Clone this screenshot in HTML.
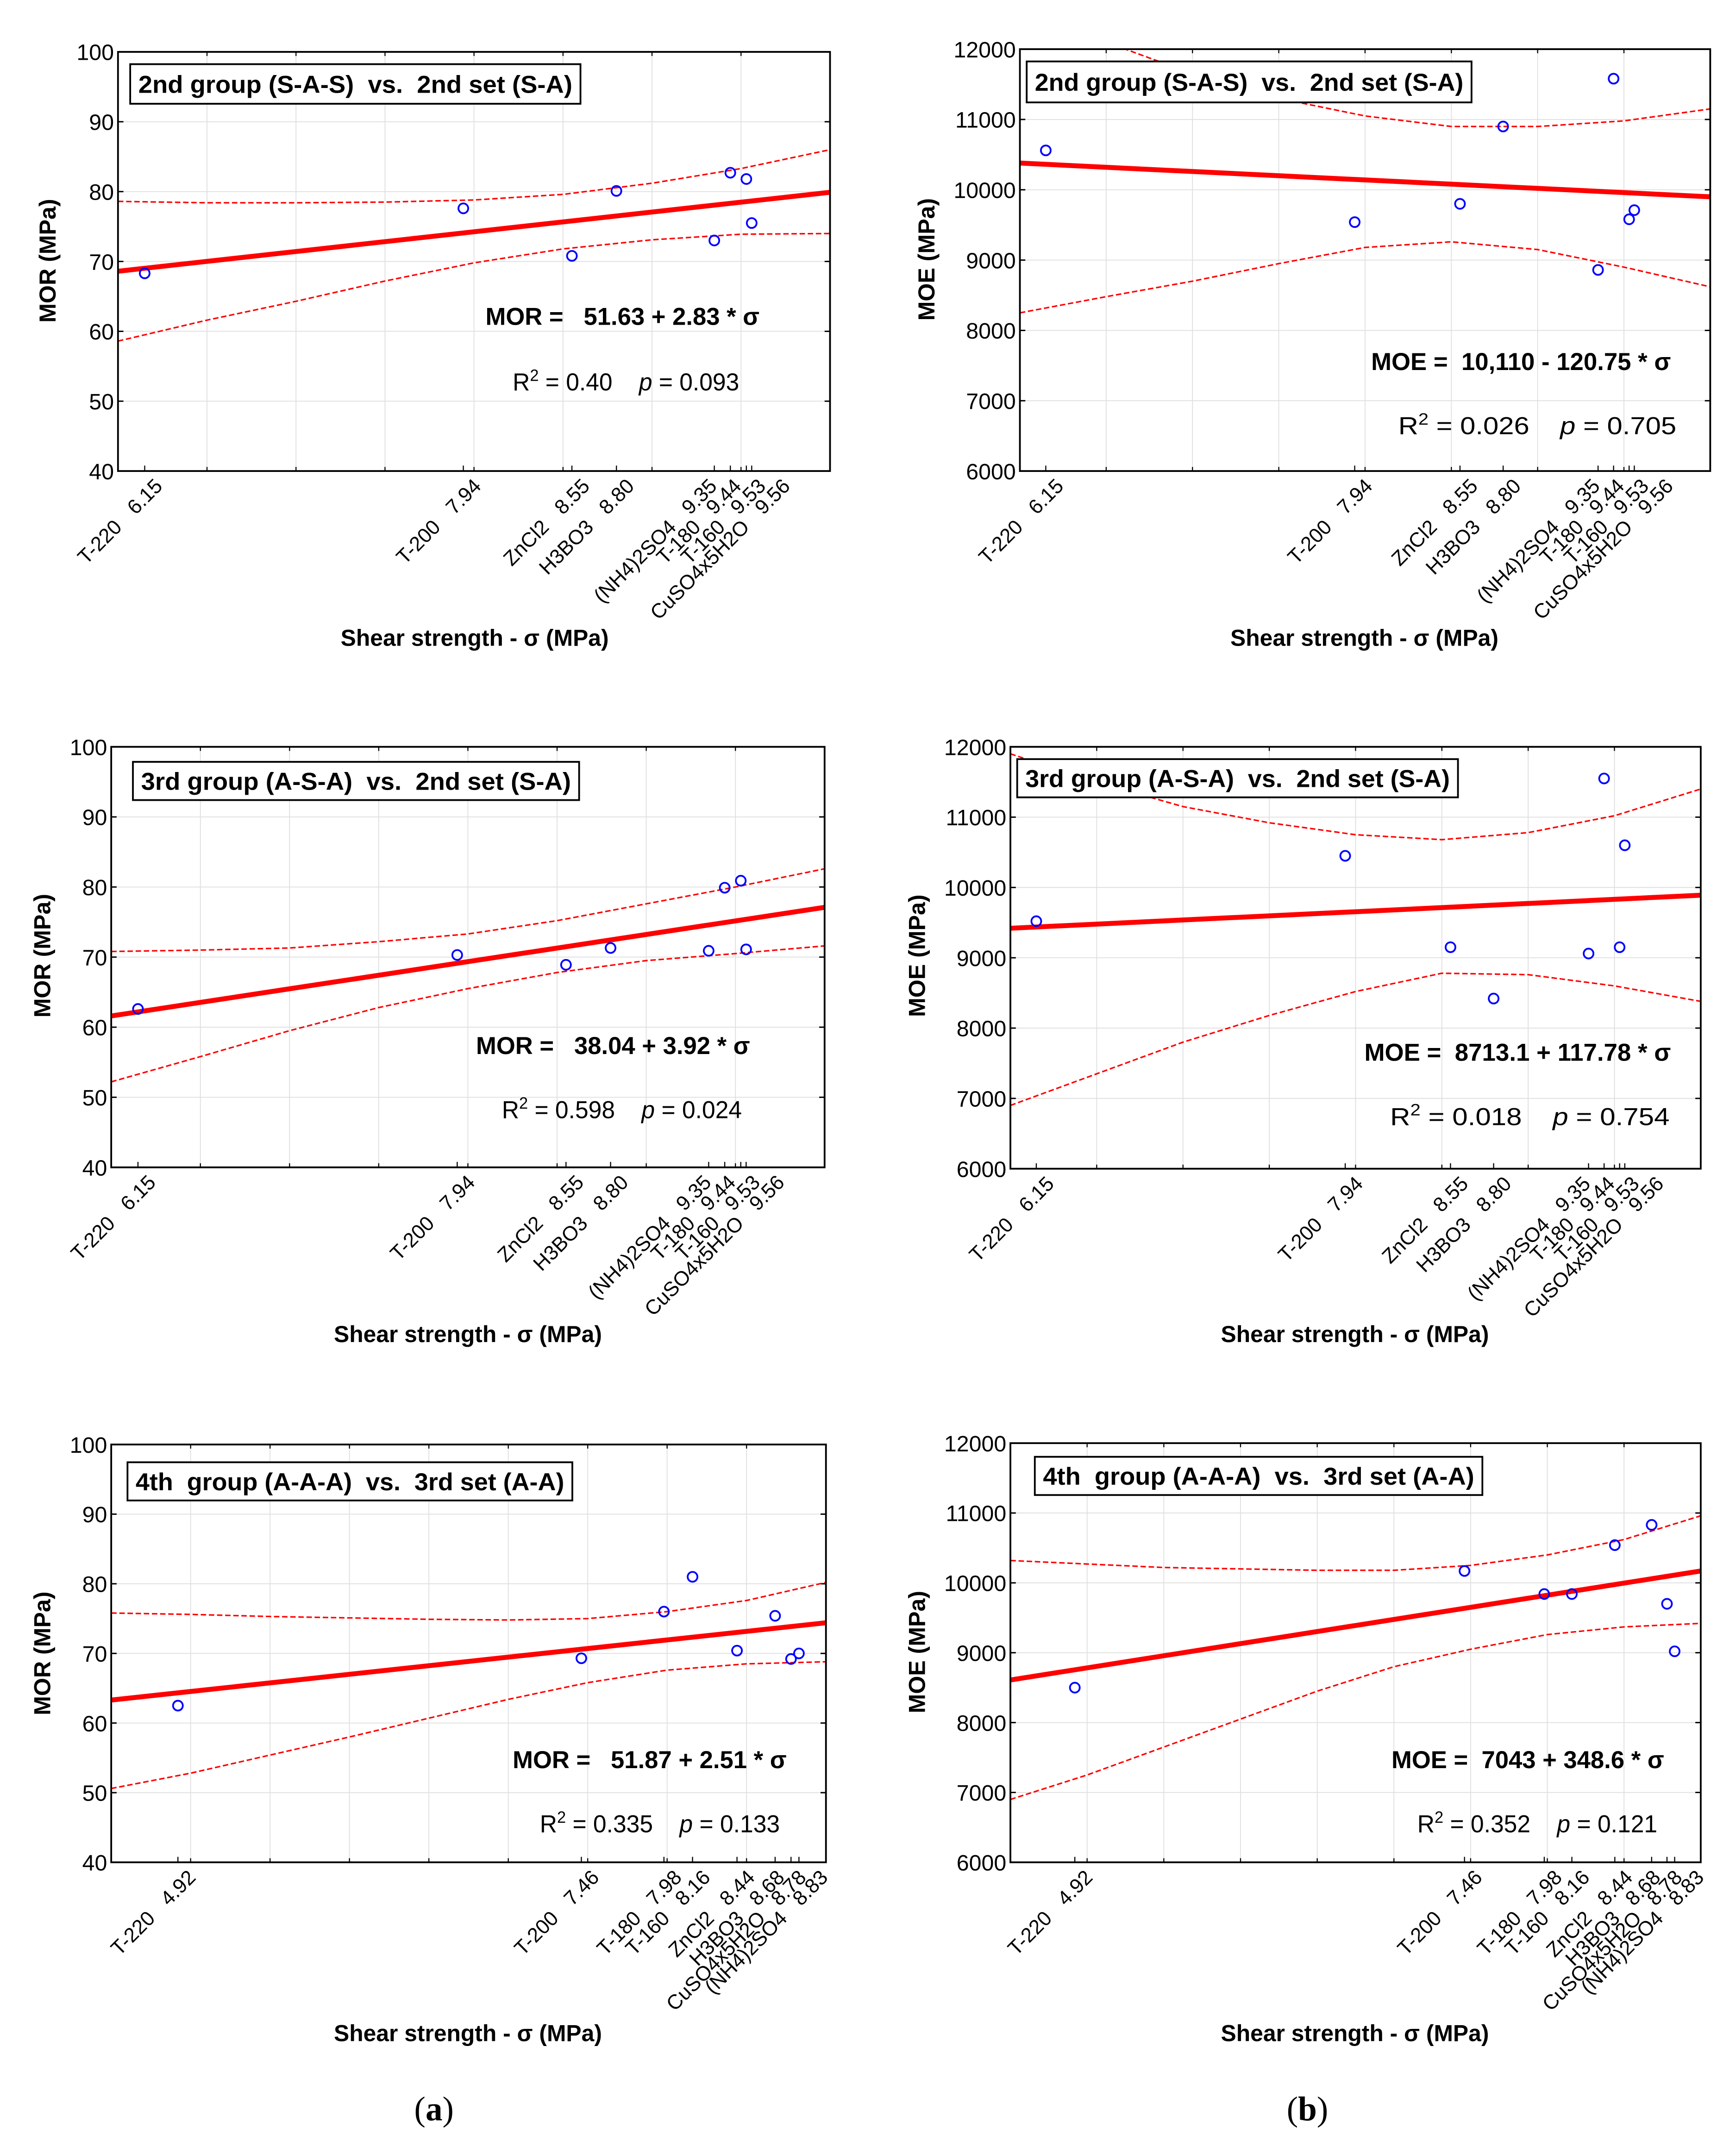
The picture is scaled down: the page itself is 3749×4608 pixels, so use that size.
<!DOCTYPE html>
<html><head><meta charset="utf-8">
<style>
html,body{margin:0;padding:0;background:#fff;}
svg{display:block;}
text{font-family:"Liberation Sans",sans-serif;white-space:pre;}
.nar{font-family:"Liberation Sans Narrow","Liberation Sans",sans-serif;}
</style></head>
<body>
<svg id="fig" width="3749" height="4608" viewBox="0 0 1280 1563" preserveAspectRatio="none" xmlns="http://www.w3.org/2000/svg">
<rect x="0" y="0" width="1280" height="1563" fill="#fff"/>
<text x="320" y="1553" font-size="25" text-anchor="middle" style="font-family:'Liberation Serif',serif">(<tspan font-weight="bold">a</tspan>)</text>
<text x="964" y="1553" font-size="25" text-anchor="middle" style="font-family:'Liberation Serif',serif">(<tspan font-weight="bold">b</tspan>)</text>
</svg>
<script>
// shared category labels
const namesA = ["T-220","T-200","ZnCl2","H3BO3","(NH4)2SO4","T-180","T-160","CuSO4x5H2O"];
const ticksA = ["6.15","7.94","8.55","8.80","9.35","9.44","9.53","9.56"];
const xA = [6.15,7.94,8.55,8.80,9.35,9.44,9.53,9.56];
const namesB = ["T-220","T-200","T-180","T-160","ZnCl2","H3BO3","CuSO4x5H2O","(NH4)2SO4"];
const ticksB = ["4.92","7.46","7.98","8.16","8.44","8.68","8.78","8.83"];
const xB = [4.92,7.46,7.98,8.16,8.44,8.68,8.78,8.83];
const bandXA = [6,6.5,7,7.5,8,8.5,9,9.5,10];
const bandXB = [4.5,5,5.5,6,6.5,7,7.5,8,8.5,9];

// panel 1: MOR, 2nd group
const p1Y = [68.3,77.6,70.8,80.1,73.0,82.7,81.8,75.5];
const p1Line = [68.6,79.9];
const p1Upper = [78.6,78.4,78.4,78.5,78.8,79.6,81.2,83.3,86.0];
const p1Lower = [58.6,61.6,64.3,67.2,69.8,71.8,73.1,73.9,74.0];
// panel 2: MOE, 2nd group
const p2Y = [10560,9540,9800,10900,8860,11580,9580,9710];
const p2Line = [10380,9900];
const p2Upper = [12700,12100,11650,11300,11050,10900,10900,10980,11150];
const p2Lower = [8250,8480,8700,8950,9180,9260,9150,8900,8620];
// panel 3: MOR, 3rd group
const p3Y = [62.6,70.3,68.9,71.3,70.9,79.9,80.9,71.1];
const p3Line = [61.6,77.1];
const p3Upper = [70.8,71.0,71.3,72.2,73.3,75.2,77.6,80.0,82.6];
const p3Lower = [52.2,55.8,59.5,62.8,65.5,67.8,69.5,70.5,71.6];
// panel 4: MOE, 3rd group
const p4Y = [9520,10450,9150,8420,9060,11550,9150,10600];
const p4Line = [9420,9890];
const p4Upper = [11900,11500,11150,10920,10750,10680,10780,11020,11400];
const p4Lower = [6900,7350,7800,8180,8520,8780,8760,8600,8380];
// panel 5: MOR, 4th group
const p5Y = [62.5,69.3,76.0,81.0,70.4,75.4,69.2,70.0];
const p5Line = [63.3,74.4];
const p5Upper = [75.8,75.6,75.3,75.1,74.9,74.8,75.0,76.0,77.6,80.2];
const p5Lower = [50.6,52.8,55.4,58.0,60.7,63.4,65.8,67.6,68.5,68.8];
// panel 6: MOE, 4th group
const p6Y = [8500,10170,9840,9840,10540,10830,9700,9020];
const p6Line = [8610,10170];
const p6Upper = [10320,10270,10220,10200,10180,10180,10250,10400,10620,10960];
const p6Lower = [6900,7250,7650,8050,8450,8800,9050,9260,9370,9420];

const yTicksMOR = ["40","50","60","70","80","90","100"];
const yTicksMOE = ["6000","7000","8000","9000","10000","11000","12000"];

const NS = "http://www.w3.org/2000/svg";
const svg = document.getElementById("fig");
function mk(tag, attrs, parent){
  const e = document.createElementNS(NS, tag);
  for (const k in attrs) e.setAttribute(k, attrs[k]);
  (parent||svg).appendChild(e);
  return e;
}

function spread(pos, gap){
  const a = pos.slice();
  for (let it = 0; it < 200; it++) {
    let moved = false;
    for (let i = 0; i < a.length - 1; i++) {
      const d = a[i + 1] - a[i];
      if (d < gap - 0.01) { const s = (gap - d) / 2; a[i] -= s; a[i + 1] += s; moved = true; }
    }
    if (!moved) break;
  }
  return a;
}

function panel(id, L, R, T, B, xmin, xmax, ymin, ymax, ystep, yTicks, xs, ys, names, ticks, line, bandX, up, lo,
               yTitle, legend, legBox, eq, eqPos, r2, pv, r2Pos, xTitlePos, yTitlePos, gap){
  const g = mk("g", {});
  
  
  const sx = v => L + (v - xmin) / (xmax - xmin) * (R - L);
  const sy = v => B - (v - ymin) / (ymax - ymin) * (B - T);
  const clipId = id + "-clip";
  const cp = mk("clipPath", {id: clipId}, g);
  mk("rect", {x: L, y: T, width: R - L, height: B - T}, cp);
  for (let v = xmin + 0.5; v < xmax - 0.01; v += 0.5) {
    const gl = mk("line", {x1: sx(v), x2: sx(v), y1: T, y2: B, stroke: "#dedede", "stroke-width": 0.6}, g);
    
    
    mk("line", {x1: sx(v), x2: sx(v), y1: B, y2: B - 3, stroke: "#000", "stroke-width": 0.8}, g);
    mk("line", {x1: sx(v), x2: sx(v), y1: T, y2: T + 3, stroke: "#000", "stroke-width": 0.8}, g);
  }
  yTicks.forEach((lab, i) => {
    const v = ymin + i * ystep;
    const y = sy(v);
    if (i > 0 && i < yTicks.length - 1) {
      const gl = mk("line", {x1: L, x2: R, y1: y, y2: y, stroke: "#dedede", "stroke-width": 0.6}, g);
      
      
    }
    mk("line", {x1: L, x2: L + 4, y1: y, y2: y, stroke: "#000", "stroke-width": 1}, g);
    mk("line", {x1: R, x2: R - 4, y1: y, y2: y, stroke: "#000", "stroke-width": 1}, g);
    const t = mk("text", {x: L - 3, y: y + 6, "font-size": 16.5, "text-anchor": "end"}, g);
    t.textContent = lab;
    
    
  });
  const anchors = spread(xs.map(v => sx(v)), gap);
  xs.forEach((v, i) => {
    const x = sx(v);
    mk("line", {x1: x, x2: x, y1: B, y2: B - 4, stroke: "#000", "stroke-width": 0.8}, g);
    const ax = anchors[i] + 6, ay = B + 4;
    const t1 = mk("text", {x: ax, y: ay, "font-size": 15, "text-anchor": "end",
      transform: "rotate(-45 " + ax + " " + ay + ")", dy: "0.75em"}, g);
    t1.textContent = ticks[i];
    
    
    const nx = ax - 30, ny = ay + 30;
    const t2 = mk("text", {x: nx, y: ny, "font-size": 15, "text-anchor": "end",
      transform: "rotate(-45 " + nx + " " + ny + ")", dy: "0.75em"}, g);
    t2.textContent = names[i];
    
    
  });
  const cg = mk("g", {"clip-path": "url(#" + clipId + ")"}, g);
  const bandPath = arr => bandX.map((v, i) => (i ? "L" : "M") + sx(v).toFixed(2) + " " + sy(arr[i]).toFixed(2)).join(" ");
  const pu = mk("path", {d: bandPath(up), fill: "none", stroke: "#f00", "stroke-width": 1.1, "stroke-dasharray": "4 2"}, cg);
  
  
  const pl = mk("path", {d: bandPath(lo), fill: "none", stroke: "#f00", "stroke-width": 1.1, "stroke-dasharray": "4 2"}, cg);
  
  
  const rl = mk("line", {x1: sx(xmin), y1: sy(line[0]), x2: sx(xmax), y2: sy(line[1]), stroke: "#f00", "stroke-width": 3.6}, cg);
  
  
  xs.forEach((v, i) => {
    const c = mk("circle", {cx: sx(v), cy: sy(ys[i]), r: 3.6, fill: "none", stroke: "#00f", "stroke-width": 1.3}, g);
    
    
  });
  const fr = mk("rect", {x: L, y: T, width: R - L, height: B - T, fill: "none", stroke: "#000", "stroke-width": 1.3}, g);
  
  
  const lb = mk("rect", {x: legBox[0], y: legBox[1], width: legBox[2] - legBox[0], height: legBox[3] - legBox[1], fill: "#fff", stroke: "#000", "stroke-width": 1.3}, g);
  
  
  const lt = mk("text", {x: legBox[0] + 6, y: (legBox[1] + legBox[3]) / 2 + 6.5, "font-size": 18, "font-weight": "bold", "class": "nar",
    textLength: legBox[2] - legBox[0] - 12, lengthAdjust: "spacingAndGlyphs"}, g);
  lt.textContent = legend;
  
  
  const et = mk("text", {x: eqPos[0], y: eqPos[2], "font-size": 18, "font-weight": "bold", "class": "nar",
    textLength: eqPos[1] - eqPos[0], lengthAdjust: "spacingAndGlyphs"}, g);
  et.textContent = eq;
  
  
  const rt = mk("text", {x: r2Pos[0], y: r2Pos[2], "font-size": 18, "class": "nar",
    textLength: r2Pos[1] - r2Pos[0], lengthAdjust: "spacingAndGlyphs"}, g);
  rt.innerHTML = 'R<tspan dy="-7" font-size="12">2</tspan><tspan dy="7"> = ' + r2 + '    </tspan><tspan font-style="italic">p</tspan> = ' + pv;
  
  
  const xt = mk("text", {x: xTitlePos[0], y: xTitlePos[1] + 6, "font-size": 17, "font-weight": "bold", "text-anchor": "middle"}, g);
  xt.textContent = "Shear strength - σ (MPa)";
  
  
  const yt = mk("text", {x: yTitlePos[0] + 6, y: yTitlePos[1], "font-size": 17, "font-weight": "bold", "text-anchor": "middle",
    transform: "rotate(-90 " + (yTitlePos[0] + 6) + " " + yTitlePos[1] + ")"}, g);
  yt.textContent = yTitle;
  
  
}

panel("panel-mor-2nd-group", 87, 612, 38, 345, 6, 10, 40, 100, 10, yTicksMOR, xA, p1Y, namesA, ticksA, p1Line, bandXA, p1Upper, p1Lower,
  "MOR (MPa)", "2nd group (S-A-S)  vs.  2nd set (S-A)", [96, 47, 428, 76],
  "MOR =   51.63 + 2.83 * σ", [358, 560, 238], "0.40", "0.093", [378, 545, 286], [350, 467], [35, 191], 18);
panel("panel-moe-2nd-group", 752, 1261, 36, 345, 6, 10, 6000, 12000, 1000, yTicksMOE, xA, p2Y, namesA, ticksA, p2Line, bandXA, p2Upper, p2Lower,
  "MOE (MPa)", "2nd group (S-A-S)  vs.  2nd set (S-A)", [757, 45, 1085, 75],
  "MOE =  10,110 - 120.75 * σ", [1011, 1232, 271], "0.026", "0.705", [1031, 1236, 318], [1006, 467], [683, 190], 18);
panel("panel-mor-3rd-group", 82, 608, 547, 855, 6, 10, 40, 100, 10, yTicksMOR, xA, p3Y, namesA, ticksA, p3Line, bandXA, p3Upper, p3Lower,
  "MOR (MPa)", "3rd group (A-S-A)  vs.  2nd set (S-A)", [98, 558, 427, 586],
  "MOR =   38.04 + 3.92 * σ", [351, 553, 772], "0.598", "0.024", [370, 547, 819], [345, 977], [31, 700], 18);
panel("panel-moe-3rd-group", 745, 1254, 547, 856, 6, 10, 6000, 12000, 1000, yTicksMOE, xA, p4Y, namesA, ticksA, p4Line, bandXA, p4Upper, p4Lower,
  "MOE (MPa)", "3rd group (A-S-A)  vs.  2nd set (S-A)", [750, 556, 1075, 584],
  "MOE =  8713.1 + 117.78 * σ", [1006, 1232, 777], "0.018", "0.754", [1025, 1231, 824], [999, 977], [676, 700], 18);
panel("panel-mor-4th-group", 82, 609, 1058, 1364, 4.5, 9, 40, 100, 10, yTicksMOR, xB, p5Y, namesB, ticksB, p5Line, bandXB, p5Upper, p5Lower,
  "MOR (MPa)", "4th  group (A-A-A)  vs.  3rd set (A-A)", [94, 1071, 422, 1099],
  "MOR =   51.87 + 2.51 * σ", [378, 580, 1295], "0.335", "0.133", [398, 575, 1342], [345, 1489], [31, 1211], 16);
panel("panel-moe-4th-group", 745, 1254, 1057, 1364, 4.5, 9, 6000, 12000, 1000, yTicksMOE, xB, p6Y, namesB, ticksB, p6Line, bandXB, p6Upper, p6Lower,
  "MOE (MPa)", "4th  group (A-A-A)  vs.  3rd set (A-A)", [763, 1067, 1093, 1095],
  "MOE =  7043 + 348.6 * σ", [1026, 1227, 1295], "0.352", "0.121", [1045, 1222, 1342], [999, 1489], [676, 1210], 16);
</script>
</body></html>
